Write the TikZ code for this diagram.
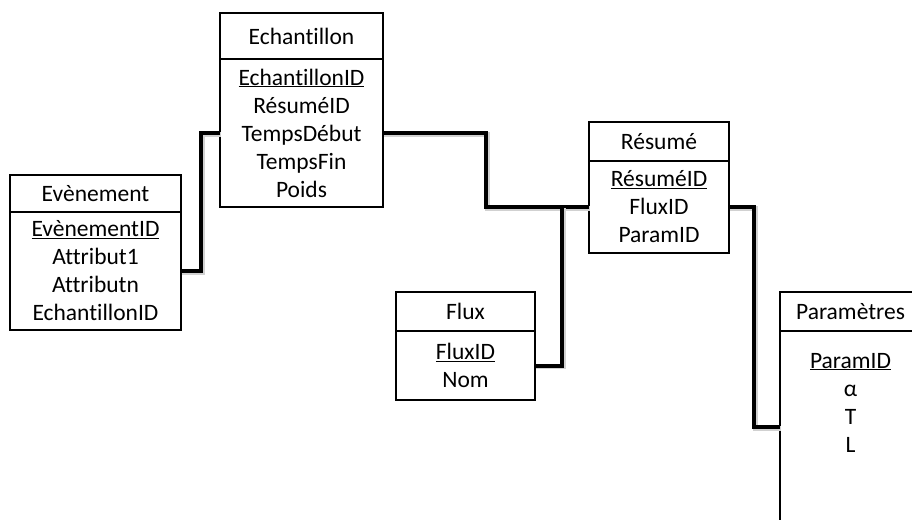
\documentclass[tikz,border=0pt]{standalone}
\usepackage{fontspec}
\setmainfont{Carlito}[Ligatures=NoCommon]
\usetikzlibrary{positioning}
\tikzset{
  texte/.style={inner sep=0pt,outer sep=0pt,align=center,font=\fontsize{23.5}{28}\selectfont},
  entete/.style={texte,draw,line width=2.2pt},
  corps/.style={texte,draw,line width=2.2pt},
  lien/.style={line width=4pt,preaction={draw=black!18,line width=4.5pt,transform canvas={shift={(1.3pt,-1.3pt)}}}},
}
\begin{document}
\begin{tikzpicture}[x=1pt,y=-1pt]
\clip (0,0) rectangle (912,519);
% tables : nom/x/y/largeur/haut. entete/haut. corps/titre/champs
\foreach \n/\x/\y/\w/\hh/\hb/\titre/\champs in {
  evt/95.5/193.5/171/37/118/{Evènement}/{\underline{EvènementID}\\Attribut1\\Attributn\\EchantillonID},
  ech/301.5/36/163/46/148/{Echantillon}/{\underline{EchantillonID}\\RésuméID\\TempsDébut\\TempsFin\\Poids},
  res/659/141.5/140/39/92/{Résumé}/{\underline{RésuméID}\\FluxID\\ParamID},
  flux/465.5/311.5/139/39/69/{Flux}/{\underline{FluxID}\\Nom},
  par/850.5/311.5/141/39/192/{Paramètres}/{}}{
  \node[entete,minimum width=\w pt,minimum height=\hh pt] (\n-titre) at (\x,\y) {\titre};
  \node[corps,minimum width=\w pt,minimum height=\hb pt,below=0pt of \n-titre] (\n) {\champs};
}
\node[texte,anchor=north] (par-champs) at ([yshift=-22pt]par.north) {\underline{ParamID}\\α\\T\\L};
% liens
\draw[lien] (evt.east) -- ++(20,0) |- (ech.west);
\draw[lien] (ech.east) -- ++(103,0) |- (res.west);
\coordinate (jonction) at ([xshift=-27pt]res.west);
\draw[lien] (flux.east) -| (jonction);
\draw[lien] (res.east) -- ++(25,0) |- (par.west);
\end{tikzpicture}
\end{document}
